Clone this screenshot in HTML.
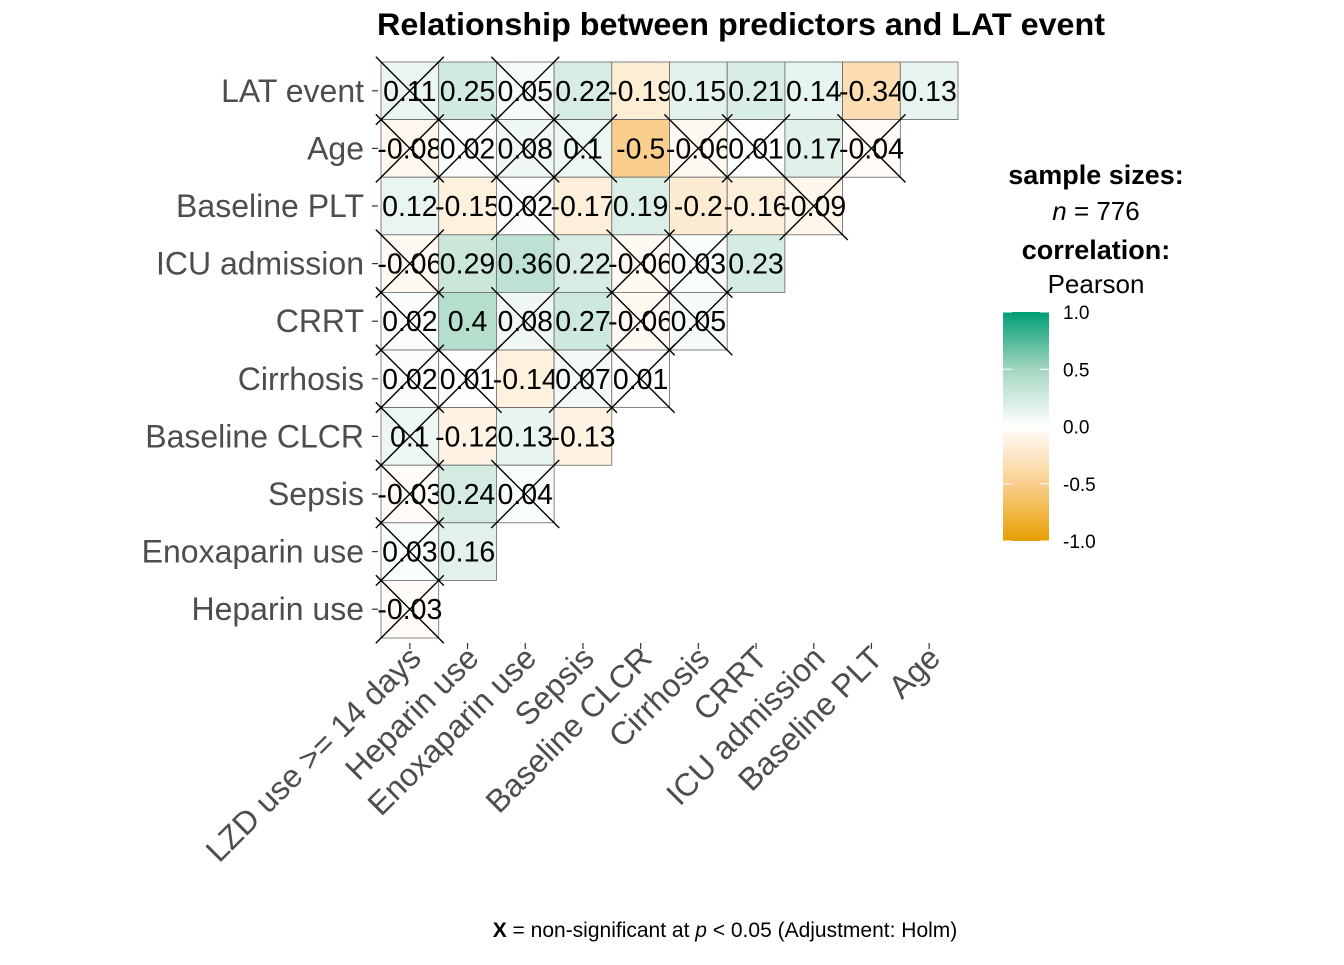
<!DOCTYPE html>
<html><head><meta charset="utf-8"><style>
body{margin:0;background:#fff;}
svg text{font-family:"Liberation Sans",sans-serif;}
</style></head><body>
<svg id="chart" width="1344" height="960" xmlns="http://www.w3.org/2000/svg">
<defs>
<linearGradient id="cbar" x1="0" y1="1" x2="0" y2="0">
<stop offset="0" stop-color="#E69F00"/><stop offset="0.25" stop-color="#FACF8E"/><stop offset="0.5" stop-color="#FFFFFF"/><stop offset="0.75" stop-color="#A3D6C0"/><stop offset="1" stop-color="#009E73"/>
</linearGradient>
</defs>
<text x="741" y="35" text-anchor="middle" font-size="31.5" font-weight="bold" textLength="728" lengthAdjust="spacingAndGlyphs">Relationship between predictors and LAT event</text>
<g id="cells"></g>
<g id="ylabels"></g>
<g id="xlabels"></g>
<g>
<text x="1096" y="184" text-anchor="middle" font-size="27" font-weight="bold">sample sizes:</text>
<text x="1096" y="220" text-anchor="middle" font-size="26"><tspan font-style="italic">n</tspan> = 776</text>
<text x="1096" y="259" text-anchor="middle" font-size="27" font-weight="bold">correlation:</text>
<text x="1096" y="293" text-anchor="middle" font-size="26">Pearson</text>
<rect x="1003" y="312" width="46" height="229" fill="url(#cbar)"/>
<g id="cticks"></g>
</g>
<text x="725" y="937" text-anchor="middle" font-size="21"><tspan font-weight="bold">X</tspan> = non-significant at <tspan font-style="italic">p</tspan> &lt; 0.05 (Adjustment: Holm)</text>
</svg>
<script>
const rowLabels=["LAT event","Age","Baseline PLT","ICU admission","CRRT","Cirrhosis","Baseline CLCR","Sepsis","Enoxaparin use","Heparin use"];
const colLabels=["LZD use >= 14 days","Heparin use","Enoxaparin use","Sepsis","Baseline CLCR","Cirrhosis","CRRT","ICU admission","Baseline PLT","Age"];
const r0=[0.11,0.25,0.05,0.22,-0.19,0.15,0.21,0.14,-0.34,0.13];
const r1=[-0.08,0.02,0.08,0.1,-0.5,-0.06,0.01,0.17,-0.04];
const r2=[0.12,-0.15,0.02,-0.17,0.19,-0.2,-0.16,-0.09];
const r3=[-0.06,0.29,0.36,0.22,-0.06,0.03,0.23];
const r4=[0.02,0.4,0.08,0.27,-0.06,0.05];
const r5=[0.02,0.01,-0.14,0.07,0.01];
const r6=[0.1,-0.12,0.13,-0.13];
const r7=[-0.03,0.24,0.04];
const r8=[0.03,0.16];
const r9=[-0.03];
const x0=[1,0,1,0,0,0,0,0,0,0];
const x1=[1,1,1,1,0,1,1,0,1];
const x2=[0,0,1,0,0,0,0,1];
const x3=[1,0,0,0,1,1,0];
const x4=[1,0,1,0,1,1];
const x5=[1,1,0,1,1];
const x6=[1,0,0,0];
const x7=[1,0,1];
const x8=[1,0];
const x9=[1];
const legendTicks=[1.0,0.5,0.0,-0.5,-1.0];
const rows=[r0,r1,r2,r3,r4,r5,r6,r7,r8,r9];
const xs=[x0,x1,x2,x3,x4,x5,x6,x7,x8,x9];
const NS="http://www.w3.org/2000/svg";
const gx0=381,gy0=62,cw=57.7,ch=57.6;
const xPos=j=>gx0+j*cw, yPos=i=>gy0+i*ch;
function mix(a,b,t){return a.map((v,k)=>Math.round(v+(b[k]-v)*t));}
function col(r){const W=[255,255,255],G1=[163,214,192],G2=[0,158,115],O1=[250,207,142],O2=[230,159,0];
let c;const a=Math.abs(r);
if(r>=0)c=a<=0.5?mix(W,G1,a/0.5):mix(G1,G2,(a-0.5)/0.5);else c=a<=0.5?mix(W,O1,a/0.5):mix(O1,O2,(a-0.5)/0.5);
return `rgb(${c[0]},${c[1]},${c[2]})`;}
function mk(t,at,p){const e=document.createElementNS(NS,t);for(const k in at)e.setAttribute(k,at[k]);p.appendChild(e);return e;}
const cells=document.getElementById('cells');
const xl=[];
rows.forEach((vals,i)=>{vals.forEach((v,j)=>{
 const r=mk('rect',{x:xPos(j),y:yPos(i),width:cw,height:ch,fill:col(v),stroke:'#666','stroke-width':0.8},cells);
 
 
 const cx=xPos(j)+cw/2,cy=yPos(i)+ch/2;
 const t=mk('text',{x:cx,y:cy+10,'text-anchor':'middle','font-size':28.5},cells);t.textContent=String(v);
 
 
 if(xs[i][j])xl.push([cx,cy]);
});});
xl.forEach(([cx,cy])=>{const d=34;
 const p=mk('path',{d:`M${cx-d} ${cy-d}L${cx+d} ${cy+d}M${cx+d} ${cy-d}L${cx-d} ${cy+d}`,stroke:'#000','stroke-width':1.4,fill:'none'},cells);
 
 
});
const yl=document.getElementById('ylabels');
rowLabels.forEach((l,i)=>{const cy=yPos(i)+ch/2;
 const t=mk('text',{x:364,y:cy+11,'text-anchor':'end','font-size':32,fill:'#4D4D4D'},yl);t.textContent=l;
 
 
 const k=mk('line',{x1:372,x2:378,y1:cy,y2:cy,stroke:'#333','stroke-width':1.2},yl);
 
 
});
const xg=document.getElementById('xlabels');
colLabels.forEach((l,j)=>{const cx=xPos(j)+cw/2;
 const k=mk('line',{x1:cx,x2:cx,y1:643,y2:649,stroke:'#333','stroke-width':1.2},xg);
 
 
 const t=mk('text',{x:cx+13,y:660,'text-anchor':'end','font-size':32,fill:'#4D4D4D',transform:`rotate(-45 ${cx+13} 660)`},xg);t.textContent=l;
 
 
});
const ct=document.getElementById('cticks');
legendTicks.forEach(v=>{const y=426.5-v*114.5;
 const t=mk('text',{x:1063,y:y+7,'font-size':19},ct);t.textContent=v.toFixed(1);
 
 
 const a=mk('path',{d:`M1003 ${y}h9M1040 ${y}h9`,stroke:'#fff','stroke-width':1},ct);
 
 
});
</script>
</body></html>
